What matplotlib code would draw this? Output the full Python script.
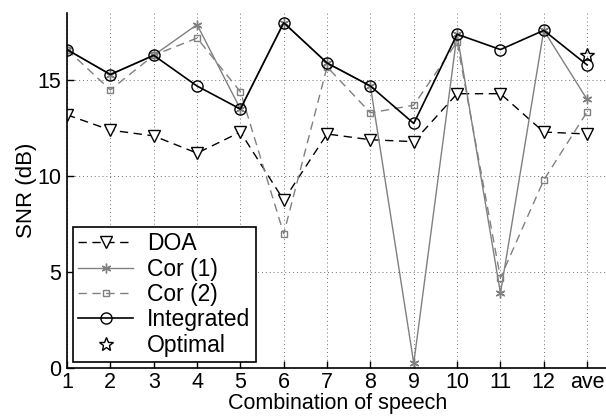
import matplotlib.pyplot as plt

plt.rcParams['font.family'] = ['Liberation Sans', 'DejaVu Sans']

# x positions 1..12 plus the average column
labels = ['1', '2', '3', '4', '5', '6', '7', '8', '9', '10', '11', '12', 'ave']
doa = [13.2, 12.4, 12.1, 11.2, 12.3, 8.75, 12.2, 11.9, 11.8, 14.3, 14.3, 12.3, 12.2]
cor1 = [16.6, 15.3, 16.3, 17.9, 13.5, 18.0, 15.9, 14.7, 0.25, 17.4, 3.9, 17.6, 14.0]
cor2 = [16.6, 14.5, 16.3, 17.2, 14.4, 7.0, 15.7, 13.3, 13.7, 17.0, 4.7, 9.8, 13.35]
integrated = [16.6, 15.3, 16.3, 14.7, 13.5, 18.0, 15.9, 14.7, 12.75, 17.4, 16.6, 17.6, 15.8]
optimal = [16.3]

x = list(range(1, len(labels) + 1))
gray = '#808080'

fig = plt.figure(figsize=(6.06, 4.18), dpi=100)
ax = fig.add_axes([0.1106, 0.1196, 0.894, 0.849])

ax.plot(x, doa, color='k', ls=(0, (6, 4)), lw=1.0, marker='v', ms=9,
        mfc='white', mec='k', mew=1.0, label='DOA')
ax.plot(x, cor1, color=gray, ls='-', lw=1.0, marker=(6, 2, 0), ms=7,
        mec=gray, mew=1.0, label='Cor (1)')
ax.plot(x, cor2, color=gray, ls=(0, (6, 4)), lw=1.0, marker='s', ms=5,
        mfc='none', mec=gray, mew=1.0, label='Cor (2)')
ax.plot(x, integrated, color='k', ls='-', lw=1.2, marker='o', ms=8,
        mfc='none', mec='k', mew=1.0, label='Integrated')
ax.plot([x[-1]], optimal, ls='none', marker='*', ms=10, mfc='none',
        mec='k', mew=1.0, label='Optimal')

ax.set_xlim(1, 13.5)
ax.set_ylim(0, 18.5)
ax.set_xticks(x)
ax.set_xticklabels(labels)
ax.set_yticks([0, 5, 10, 15])
ax.tick_params(direction='in', labelsize=15.5, length=5, width=1)
ax.tick_params(axis='x', pad=3)
ax.tick_params(axis='y', pad=4)
ax.grid(True, ls=(0, (1, 3)), color='#707070', lw=0.7)
ax.spines['top'].set_visible(False)
ax.spines['right'].set_visible(False)
ax.spines['left'].set_linewidth(1.2)
ax.spines['bottom'].set_linewidth(1.2)

ax.set_xlabel('Combination of speech', fontsize=15.5, labelpad=0)
ax.set_ylabel('SNR (dB)', fontsize=16, labelpad=0)

leg = ax.legend(loc='lower left', fontsize=16.5, frameon=True, fancybox=False,
                edgecolor='k', framealpha=1, handlelength=2.4,
                borderaxespad=0.25, labelspacing=0.1, borderpad=0.25,
                handletextpad=0.6)
leg.get_frame().set_linewidth(1.2)

fig.savefig('out.png', dpi=100)
